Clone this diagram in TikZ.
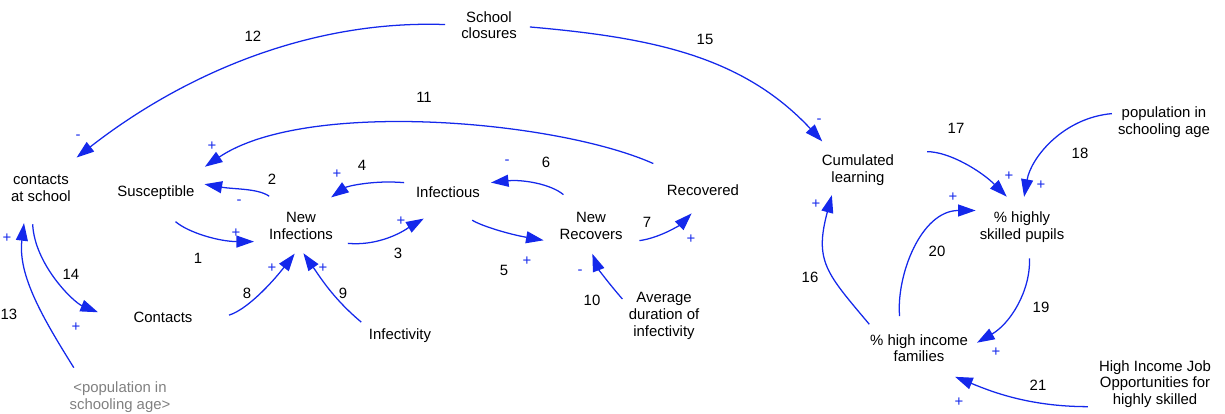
\documentclass[tikz,border=0pt]{standalone}
\usepackage{fontspec}
\setmainfont{Liberation Sans}
\usetikzlibrary{arrows.meta}
\definecolor{linkblue}{RGB}{20,40,235}
\definecolor{shadowgray}{RGB}{128,128,128}
\newcommand{\varfont}{\fontsize{10.6}{11.8}\selectfont}

\begin{document}
\begin{tikzpicture}[x=0.025cm, y=0.025cm, >={Triangle[length=12.5pt,width=8.5pt]},
    var/.style={align=center, inner sep=2pt, font=\varfont},
    num/.style={inner sep=1pt, font=\varfont},
    pol/.style={inner sep=1pt, font=\varfont, text=linkblue},
    link/.style={->, linkblue, line width=0.9pt},
    gap/.style 2 args={shorten <=#1*0.025cm, shorten >=#2*0.025cm}]
    \useasboundingbox (0,0) rectangle (1225,-414);
    % variables
    \node[var] (school) at (489,-25) {School\\closures};
    \node[var] (cas) at (41,-188) {contacts\\at school};
    \node[var] (sus) at (156,-193) {Susceptible};
    \node[var] (newinf) at (301,-226) {New\\Infections};
    \node[var] (inf) at (448,-192) {Infectious};
    \node[var] (newrec) at (591,-226) {New\\Recovers};
    \node[var] (rec) at (703,-190) {Recovered};
    \node[var] (avgdur) at (664,-316) {Average\\duration of\\infectivity};
    \node[var] (infv) at (400,-336) {Infectivity};
    \node[var] (contacts) at (163,-317) {Contacts};
    \node[var, text=shadowgray] (popshadow) at (120,-397) {<population in\\schooling age>};
    \node[var] (cum) at (858,-170) {Cumulated\\learning};
    \node[var] (popsa) at (1164,-122) {population in\\schooling age};
    \node[var] (hsp) at (1022,-227) {\% highly\\skilled pupils};
    \node[var] (hif) at (919,-348) {\% high income\\families};
    \node[var] (hijo) at (1155,-384) {High Income Job\\Opportunities for\\highly skilled};
    % causal links
    \draw[link, gap={29}{12}] (sus.-105) to[out=-40, in=180] (newinf.-156);
    \draw[link, gap={23}{7}] (newinf.128) to[out=145, in=-10] (sus.north east);
    \draw[link, gap={12}{36}] (newinf.-25) to[out=-5, in=210] (inf.-51);
    \draw[link, gap={9}{21}] (inf.north west) to[out=175, in=35] (newinf.52);
    \draw[link, gap={37}{13}] (inf.-130) to[out=-32, in=170] (newrec.south west);
    \draw[link, gap={23}{8}] (newrec.121) to[out=140, in=6] (inf.north east);
    \draw[link, gap={14}{21}] (newrec.south east) to[out=8, in=225] (rec.-68);
    \draw[link, gap={35}{14}] (contacts.south east) to[out=17, in=232] (newinf.-82);
    \draw[link, gap={6}{13}] (infv.north west) to[out=140, in=-55] (newinf.-107);
    \draw[link, gap={5}{12}] (avgdur.161) to[out=131, in=-69] (newrec.-100);
    \draw[link, gap={44}{29}, looseness=0.75] (rec.138) to[out=156, in=34] (sus.22);
    \draw[link, gap={13}{23}, looseness=0.92] (school.180) to[out=178, in=38] (cas.43);
    \draw[link, gap={13}{19}] (popshadow.155) to[out=122, in=-97] (cas.-132);
    \draw[link, gap={20}{35}] (cas.-120) to[out=-87, in=158] (contacts.south west);
    \draw[link, gap={10}{14}] (school.-2) to[out=-5, in=133] (cum.145);
    \draw[link, gap={9}{7}, looseness=1.3] (hif.159) to[out=130, in=-105] (cum.-143);
    \draw[link, gap={30}{17}] (cum.north east) to[out=0, in=135] (hsp.100);
    \draw[link, gap={3}{12}] (popsa.170) to[out=185, in=80] (hsp.90);
    \draw[link, gap={13}{7}] (hsp.-69) to[out=-88, in=30] (hif.2);
    \draw[link, gap={15}{1}] (hif.137) to[out=95, in=180] (hsp.160);
    \draw[link, gap={8}{32}] (hijo.-159) to[out=180, in=-22] (hif.-69);
    % link numbers
    \foreach \n/\x/\y in {1/198/258, 2/272/179, 3/398/253, 4/362/165, 5/504/270, 6/546/162, 7/647/222,
        8/247/293, 9/343/293, 10/592/300, 11/424/97, 12/253/36, 13/9/314, 14/71/274, 15/705/39,
        16/810/277, 17/956/128, 18/1080/153, 19/1041/307, 20/937/251, 21/1038/385}
        \node[num] (n\n) at (\x,-\y) {\n};
    % polarities
    \foreach \n/\s/\x/\y in {1/+/236/233, 2/-/239/202, 3/+/401/221, 4/+/337/174, 5/+/527/261, 6/-/507/162,
        7/+/691/239, 8/+/272/268, 9/+/323/268, 10/-/580/272, 11/+/212/146, 12/-/78/137, 13/+/7/238,
        14/+/76/327, 15/-/819/121, 16/+/816/204, 17/+/1009/176, 18/+/1041/185, 19/+/996/352,
        20/+/953/197, 21/+/959/402}
        \node[pol] (s\n) at (\x,-\y) {\s};
\end{tikzpicture}
\end{document}
